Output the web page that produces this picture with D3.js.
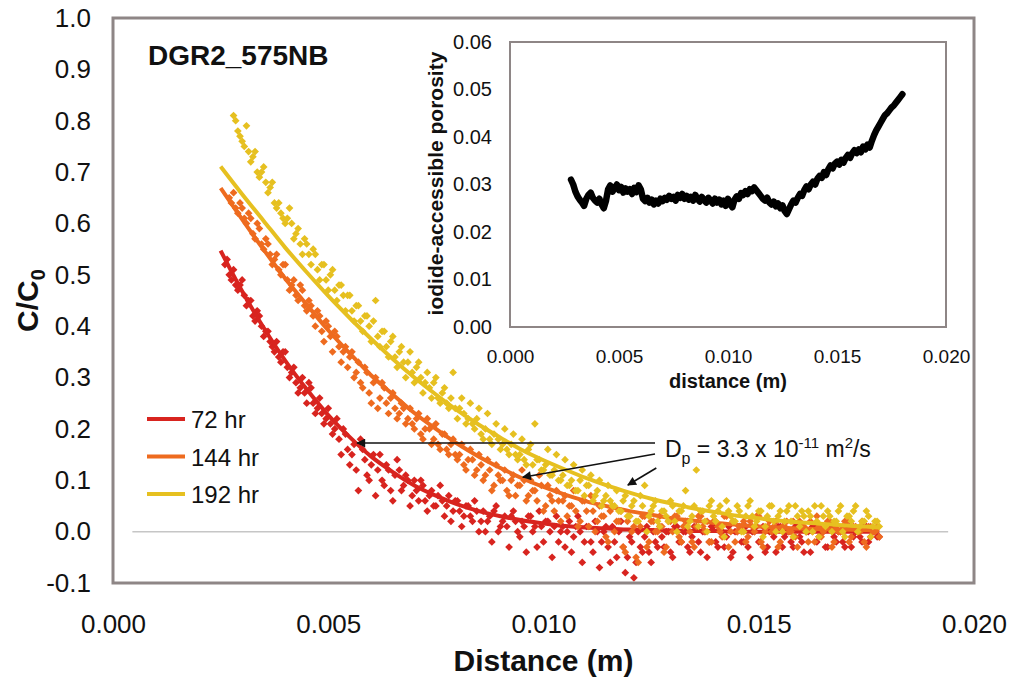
<!DOCTYPE html>
<html>
<head>
<meta charset="utf-8">
<script src="https://cdn.jsdelivr.net/npm/d3@7"></script>
<style>
body { margin: 0; background: #fff; }
text { font-family: "Liberation Sans", Arial, sans-serif; fill: #111; }
</style>
</head>
<body>
<div id="chart"></div>
<script>
// measured C/C0 profiles: two interleaved scans, one value every 0.1 mm each
const step = 0.0001;
const start72 = 0.0026, start144 = 0.0027, start192 = 0.0028;
const start72b = 0.00265, start144b = 0.00275, start192b = 0.00285;

const data72 = [
  .52,.50,.51,.47,.49,.44,.45,.41,.42,.38,.39,.36,.37,.33,.35,.30,.32,.27,.30,.25,
  .28,.23,.26,.21,.24,.19,.22,.15,.19,.13,.17,.08,.16,.11,.13,.07,.15,.09,.12,.06,
  .14,.08,.11,.05,.10,.06,.09,.04,.08,.05,.09,.03,.07,.04,.06,.01,.05,.03,.06,.00,
  .04,.02,-.02,.05,.01,.03,-.03,.04,.00,.02,-.04,.03,.01,.04,-.02,.02,-.05,.03,.00,-.03,
  .02,-.01,.03,-.06,.01,-.02,.02,-.07,.00,-.03,.01,-.05,.02,-.08,-.01,-.09,.00,-.04,.01,-.06,
  -.02,.01,-.03,.00,-.05,.01,-.02,.00,-.04,.01,-.02,.00,-.05,.01,-.02,.00,-.03,.01,-.04,.00,
  -.02,.01,-.05,.00,-.02,.01,-.03,.00,-.04,.01,-.01,.00,-.03,.01,-.02,.00,-.04,.01,-.01,.00,
  -.03,.01,-.02,.00,-.03,.01,-.01,.00,-.02,.01,-.01,.00,-.01
];
const data72b = [
  .53,.49,.48,.48,.46,.45,.42,.43,.40,.39,.37,.35,.34,.35,.32,.31,.29,.28,.27,.29,
  .25,.24,.23,.22,.21,.20,.18,.20,.16,.15,.12,.18,.14,.10,.15,.12,.10,.13,.08,.11,
  .12,.09,.10,.07,.08,.10,.06,.07,.05,.07,.06,.05,.02,.06,.04,.03,.05,.02,.04,.02,
  .00,.03,.04,.00,.02,.01,.03,.02,-.01,.01,.03,.00,-.03,.01,.02,.00,.01,-.02,.01,.00,
  -.04,.01,.00,-.02,.01,-.04,.00,-.02,.01,-.06,-.02,.00,-.03,-.05,-.02,-.06,-.03,-.01,-.04,.00,
  -.03,-.01,.00,-.04,.01,-.02,.00,-.03,-.01,.01,-.04,.00,-.02,.01,-.03,.00,-.01,-.05,.00,.01,
  -.02,-.03,.00,.01,-.02,-.04,.00,-.01,.01,-.03,.00,-.02,.01,-.01,-.04,.00,.01,-.02,.00,-.03,
  .01,-.01,.00,-.02,.01,-.03,.00,-.01,.01,-.02,.00,-.01
];

const data144 = [
  .65,.66,.62,.63,.60,.61,.57,.59,.55,.56,.52,.54,.50,.52,.47,.49,.45,.47,.43,.44,
  .40,.42,.37,.40,.35,.38,.33,.36,.34,.30,.33,.28,.31,.25,.30,.26,.28,.23,.27,.22,
  .25,.21,.24,.20,.23,.18,.22,.17,.21,.16,.19,.15,.18,.14,.17,.12,.16,.11,.15,.10,
  .14,.08,.13,.10,.12,.07,.11,.09,.12,.06,.10,.08,.11,.04,.09,.06,.08,.02,.07,.05,
  .08,.01,.06,.04,.07,.00,.05,.03,-.02,.05,.02,.04,-.04,.03,.01,-.06,.03,-.03,.02,.00,
  .03,-.04,.02,.00,.03,-.02,.02,.00,-.03,.03,.01,.02,-.02,.02,.00,.03,-.03,.02,.00,.01,
  -.02,.02,.00,.03,-.03,.01,.00,.02,-.02,.01,.00,.02,-.03,.01,.00,.02,-.02,.01,.00,.02,
  -.03,.01,.00,.02,-.02,.01,.00,.02,-.03,.01,.00,-.01
];
const data144b = [
  .64,.63,.64,.61,.62,.58,.60,.56,.57,.54,.53,.51,.52,.49,.48,.46,.48,.44,.45,.42,
  .43,.39,.41,.38,.39,.36,.35,.32,.35,.31,.29,.32,.27,.29,.24,.29,.25,.26,.24,.23,
  .24,.22,.21,.22,.19,.20,.20,.18,.17,.19,.16,.17,.15,.15,.13,.14,.14,.12,.13,.11,
  .12,.09,.11,.10,.08,.10,.07,.09,.10,.07,.08,.06,.09,.05,.07,.04,.06,.06,.03,.05,
  .04,.02,.06,.01,.04,.02,.03,-.01,.04,.00,.02,-.03,.02,.00,-.05,.01,.03,-.02,.02,.00,
  .01,-.03,.02,.03,-.01,.01,.02,-.02,.01,.03,.00,-.02,.02,.01,-.01,.03,.00,-.02,.01,.02,
  -.01,.01,.03,-.02,.00,.02,.01,-.03,.01,.02,.00,-.01,.02,.01,-.02,.00,.03,-.01,.01,.02,
  -.02,.00,.01,.02,-.01,.01,.00,-.02,.01,.00,.01
];

const data192 = [
  .81,.78,.76,.79,.72,.74,.69,.71,.66,.68,.63,.62,.60,.63,.57,.59,.54,.56,.52,.54,
  .49,.52,.47,.51,.45,.48,.43,.46,.41,.44,.39,.42,.37,.45,.36,.39,.34,.38,.32,.36,
  .30,.35,.29,.33,.27,.31,.26,.30,.25,.28,.24,.31,.22,.26,.21,.25,.20,.24,.18,.23,
  .17,.21,.16,.20,.15,.19,.14,.18,.13,.17,.21,.14,.12,.16,.11,.15,.10,.14,.09,.13,
  .08,.12,.09,.11,.07,.10,.06,.09,.05,.08,.04,.07,.03,.06,.02,.05,.00,.04,.06,.01,
  .04,.02,.05,.00,.04,.08,.02,.05,.01,.04,.00,.06,.02,.05,-.01,.04,.02,.05,.00,.03,
  .06,.01,.04,-.01,.03,.05,.00,.04,.02,.05,-.01,.03,.04,.00,.03,.05,-.01,.03,.04,.00,
  .02,.05,-.01,.03,.04,.00,.02,.04,-.01,.02,.01
];
const data192b = [
  .80,.77,.75,.74,.73,.70,.70,.68,.67,.64,.64,.61,.61,.60,.58,.56,.57,.54,.55,.51,
  .52,.49,.50,.47,.48,.46,.46,.43,.44,.41,.42,.40,.41,.38,.39,.36,.37,.34,.35,.33,
  .33,.31,.32,.30,.29,.28,.29,.26,.27,.25,.26,.24,.24,.23,.22,.21,.22,.19,.20,.18,
  .19,.18,.17,.16,.17,.15,.15,.14,.16,.13,.14,.12,.13,.11,.12,.10,.11,.09,.10,.08,
  .10,.07,.09,.06,.08,.05,.07,.06,.05,.04,.06,.03,.05,.02,.07,.09,.03,.05,.02,.04,
  .03,.06,.02,.04,.05,.01,.03,.12,.04,.02,.05,.03,.04,.01,.06,.03,.02,.04,.00,.05,
  .03,.02,.04,.01,.05,.02,.03,.00,.04,.02,.05,.01,.03,.04,.00,.02,.05,.01,.03,.02,
  .04,.00,.03,.02,.05,.01,.02,.03,.01,.02
];

// fitted curves (Dp = 3.3e-11 m2/s)
const fitX = [0.0025,0.003,0.0035,0.004,0.0045,0.005,0.0055,0.006,0.0065,0.007,0.0075,0.008,
  0.0085,0.009,0.0095,0.010,0.0105,0.011,0.0115,0.012,0.0125,0.013,0.0135,0.014,0.0145,
  0.015,0.0155,0.016,0.0165,0.017,0.0175,0.0178];
const fit72 = [.547,.468,.397,.333,.277,.227,.184,.146,.116,.090,.070,.053,.040,.030,.022,.016,
  .011,.008,.006,.004,.003,.002,.001,.001,0,0,0,0,0,0,0,0];
const fit144 = [.669,.608,.549,.493,.442,.392,.347,.304,.267,.231,.200,.171,.146,.124,.104,.087,
  .072,.059,.049,.040,.033,.026,.021,.017,.013,.010,.008,.006,.005,.004,.003,.002];
const fit192 = [.711,.657,.605,.553,.505,.459,.416,.375,.336,.300,.267,.236,.208,.183,.159,.139,
  .121,.104,.089,.076,.064,.054,.045,.038,.031,.026,.021,.018,.015,.012,.010,.008];

// inset: iodide-accessible porosity, every 0.1 mm from 2.8 mm
const startPor = 0.0028;
const porosity = [
  .0310,.0300,.0285,.0275,.0268,.0262,.0255,.0270,.0278,.0283,.0272,.0266,.0262,.0270,.0258,.0250,.0265,.0290,.0298,.0285,
  .0292,.0300,.0288,.0295,.0283,.0292,.0285,.0290,.0280,.0293,.0284,.0298,.0290,.0270,.0265,.0272,.0262,.0268,.0258,.0266,
  .0260,.0270,.0265,.0272,.0268,.0276,.0270,.0274,.0266,.0278,.0272,.0280,.0270,.0276,.0268,.0274,.0266,.0278,.0270,.0264,
  .0274,.0268,.0262,.0272,.0266,.0260,.0270,.0262,.0268,.0258,.0266,.0255,.0270,.0260,.0252,.0268,.0275,.0270,.0282,.0278,
  .0286,.0280,.0290,.0286,.0294,.0288,.0282,.0276,.0270,.0266,.0272,.0262,.0258,.0264,.0254,.0260,.0250,.0256,.0244,.0238,
  .0248,.0258,.0266,.0262,.0272,.0280,.0276,.0288,.0296,.0290,.0300,.0306,.0300,.0312,.0318,.0314,.0326,.0320,.0332,.0340,
  .0334,.0344,.0348,.0342,.0352,.0346,.0356,.0362,.0356,.0366,.0372,.0366,.0374,.0368,.0380,.0374,.0384,.0378,.0392,.0404,
  .0414,.0422,.0430,.0438,.0446,.0450,.0456,.0462,.0466,.0472,.0478,.0484,.0490
];

const labels = ['72 hr', '144 hr', '192 hr'];
const colors = ['#d8241f', '#ee6b1f', '#e6c020'];
const yTicks = [-0.1, 0, 0.1, 0.2, 0.3, 0.4, 0.5, 0.6, 0.7, 0.8, 0.9, 1.0];
const xTicks = [0, 0.005, 0.010, 0.015, 0.020];
const insetYTicks = [0, 0.01, 0.02, 0.03, 0.04, 0.05, 0.06];
const insetXTicks = [0, 0.005, 0.010, 0.015, 0.020];

// annotation arrows (data units): start -> tip
const arrows = [
  {x1: 0.01259, y1: 0.1725, x2: 0.00567, y2: 0.1725},
  {x1: 0.01259, y1: 0.151, x2: 0.00952, y2: 0.106},
  {x1: 0.01262, y1: 0.124, x2: 0.01196, y2: 0.0907}
];

const series = [
  {color: colors[0], scans: [[start72, data72], [start72b, data72b]], fit: fit72},
  {color: colors[1], scans: [[start144, data144], [start144b, data144b]], fit: fit144},
  {color: colors[2], scans: [[start192, data192], [start192b, data192b]], fit: fit192}
];

let svg = d3.select('#chart').append('svg')
  .attr('width', 1012)
  .attr('height', 685);

svg.append('defs').append('marker')
  .attr('id', 'arrow')
  .attr('viewBox', '0 0 10 10')
  .attr('refX', 9).attr('refY', 5)
  .attr('markerWidth', 11).attr('markerHeight', 9)
  .attr('markerUnits', 'userSpaceOnUse')
  .attr('orient', 'auto')
  .append('path').attr('d', 'M0,0 L10,5 L0,10 z').attr('fill', '#111');

// main chart
let x = d3.scaleLinear().domain([0, 0.02]).range([113, 974]);
let y = d3.scaleLinear().domain([-0.1, 1.0]).range([583, 18]);

svg.append('line')
  .attr('x1', x(0.00045)).attr('x2', x(0.0194))
  .attr('y1', y(0)).attr('y2', y(0))
  .attr('stroke', '#c6c6c6').attr('stroke-width', 1.5);

let diamond = d3.symbol(d3.symbolSquare, 30);
let line = d3.line().x(d => x(d[0])).y(d => y(d[1])).curve(d3.curveMonotoneX);

series.forEach(s => {
  let pts = [];
  s.scans.forEach(([x0, vals]) => vals.forEach((v, i) => pts.push([x0 + i * step, v])));

  svg.append('g')
    .selectAll('path')
    .data(pts)
    .enter()
    .append('path')
      .attr('d', diamond)
      .attr('transform', d => 'translate(' + x(d[0]) + ',' + y(d[1]) + ') rotate(45)')
      .attr('fill', s.color);

  svg.append('path')
    .datum(fitX.map((v, i) => [v, s.fit[i]]))
    .attr('d', line)
    .attr('fill', 'none')
    .attr('stroke', s.color)
    .attr('stroke-width', 4);
});

svg.append('rect')
  .attr('x', x(0)).attr('y', y(1.0))
  .attr('width', x(0.02) - x(0)).attr('height', y(-0.1) - y(1.0))
  .attr('fill', 'none').attr('stroke', '#8e8686').attr('stroke-width', 3);

svg.append('g')
  .attr('transform', 'translate(' + x(0) + ',0)')
  .call(d3.axisLeft(y).tickValues(yTicks).tickSize(0).tickPadding(22).tickFormat(d => d.toFixed(1)))
  .attr('font-size', 26)
  .call(g => g.select('.domain').remove());

svg.append('g')
  .attr('transform', 'translate(0,' + y(-0.1) + ')')
  .call(d3.axisBottom(x).tickValues(xTicks).tickSize(0).tickPadding(32).tickFormat(d => d.toFixed(3)))
  .attr('font-size', 26)
  .call(g => g.select('.domain').remove());

svg.append('text')
  .attr('x', (x(0) + x(0.02)) / 2)
  .attr('y', 671)
  .attr('text-anchor', 'middle')
  .attr('font-size', 30)
  .attr('font-weight', 'bold')
  .text('Distance (m)');

let yl = svg.append('text')
  .attr('transform', 'translate(38,' + y(0.45) + ') rotate(-90)')
  .attr('text-anchor', 'middle')
  .attr('font-size', 30)
  .attr('font-weight', 'bold');
yl.append('tspan').text('C/C');
yl.append('tspan').attr('font-size', 20).attr('dy', 7).text('0');

svg.append('text')
  .attr('x', 148).attr('y', 65)
  .attr('font-size', 28)
  .attr('font-weight', 'bold')
  .text('DGR2_575NB');

// legend
labels.forEach((lab, i) => {
  svg.append('line')
    .attr('x1', 147).attr('x2', 185)
    .attr('y1', 419 + i * 37.5).attr('y2', 419 + i * 37.5)
    .attr('stroke', colors[i]).attr('stroke-width', 4);
  svg.append('text')
    .attr('x', 191).attr('y', 428 + i * 37.5)
    .attr('font-size', 24)
    .text(lab);
});

// annotation
arrows.forEach(a => {
  svg.append('line')
    .attr('x1', x(a.x1)).attr('y1', y(a.y1))
    .attr('x2', x(a.x2)).attr('y2', y(a.y2))
    .attr('stroke', '#111').attr('stroke-width', 1.6)
    .attr('marker-end', 'url(#arrow)');
});

let note = svg.append('text')
  .attr('x', x(0.01282)).attr('y', y(0.145))
  .attr('font-size', 23);
note.append('tspan').text('D');
note.append('tspan').attr('font-size', 16).attr('dy', 7).text('p');
note.append('tspan').attr('dy', -7).text(' = 3.3 x 10');
note.append('tspan').attr('font-size', 15).attr('dy', -9).text('-11');
note.append('tspan').attr('dy', 9).text(' m');
note.append('tspan').attr('font-size', 15).attr('dy', -9).text('2');
note.append('tspan').attr('dy', 9).text('/s');

// inset chart
let ix = d3.scaleLinear().domain([0, 0.02]).range([510, 946]);
let iy = d3.scaleLinear().domain([0, 0.06]).range([327, 42]);

svg.append('rect')
  .attr('x', ix(0)).attr('y', iy(0.06))
  .attr('width', ix(0.02) - ix(0)).attr('height', iy(0) - iy(0.06))
  .attr('fill', '#fff').attr('stroke', '#8e8686').attr('stroke-width', 2);

svg.append('path')
  .datum(porosity)
  .attr('d', d3.line().x((d, i) => ix(startPor + i * step)).y(d => iy(d)))
  .attr('fill', 'none')
  .attr('stroke', '#000')
  .attr('stroke-width', 6.5)
  .attr('stroke-linejoin', 'round')
  .attr('stroke-linecap', 'round');

svg.append('g')
  .attr('transform', 'translate(' + ix(0) + ',0)')
  .call(d3.axisLeft(iy).tickValues(insetYTicks).tickSize(0).tickPadding(18).tickFormat(d => d.toFixed(2)))
  .attr('font-size', 20)
  .call(g => g.select('.domain').remove());

svg.append('g')
  .attr('transform', 'translate(0,' + iy(0) + ')')
  .call(d3.axisBottom(ix).tickValues(insetXTicks).tickSize(0).tickPadding(23).tickFormat(d => d.toFixed(3)))
  .attr('font-size', 19)
  .call(g => g.select('.domain').remove());

svg.append('text')
  .attr('x', (ix(0) + ix(0.02)) / 2)
  .attr('y', 388)
  .attr('text-anchor', 'middle')
  .attr('font-size', 20)
  .attr('font-weight', 'bold')
  .text('distance (m)');

svg.append('text')
  .attr('transform', 'translate(443,' + iy(0.0302) + ') rotate(-90)')
  .attr('text-anchor', 'middle')
  .attr('font-size', 21)
  .attr('font-weight', 'bold')
  .text('iodide-accessible porosity');
</script>
</body>
</html>
